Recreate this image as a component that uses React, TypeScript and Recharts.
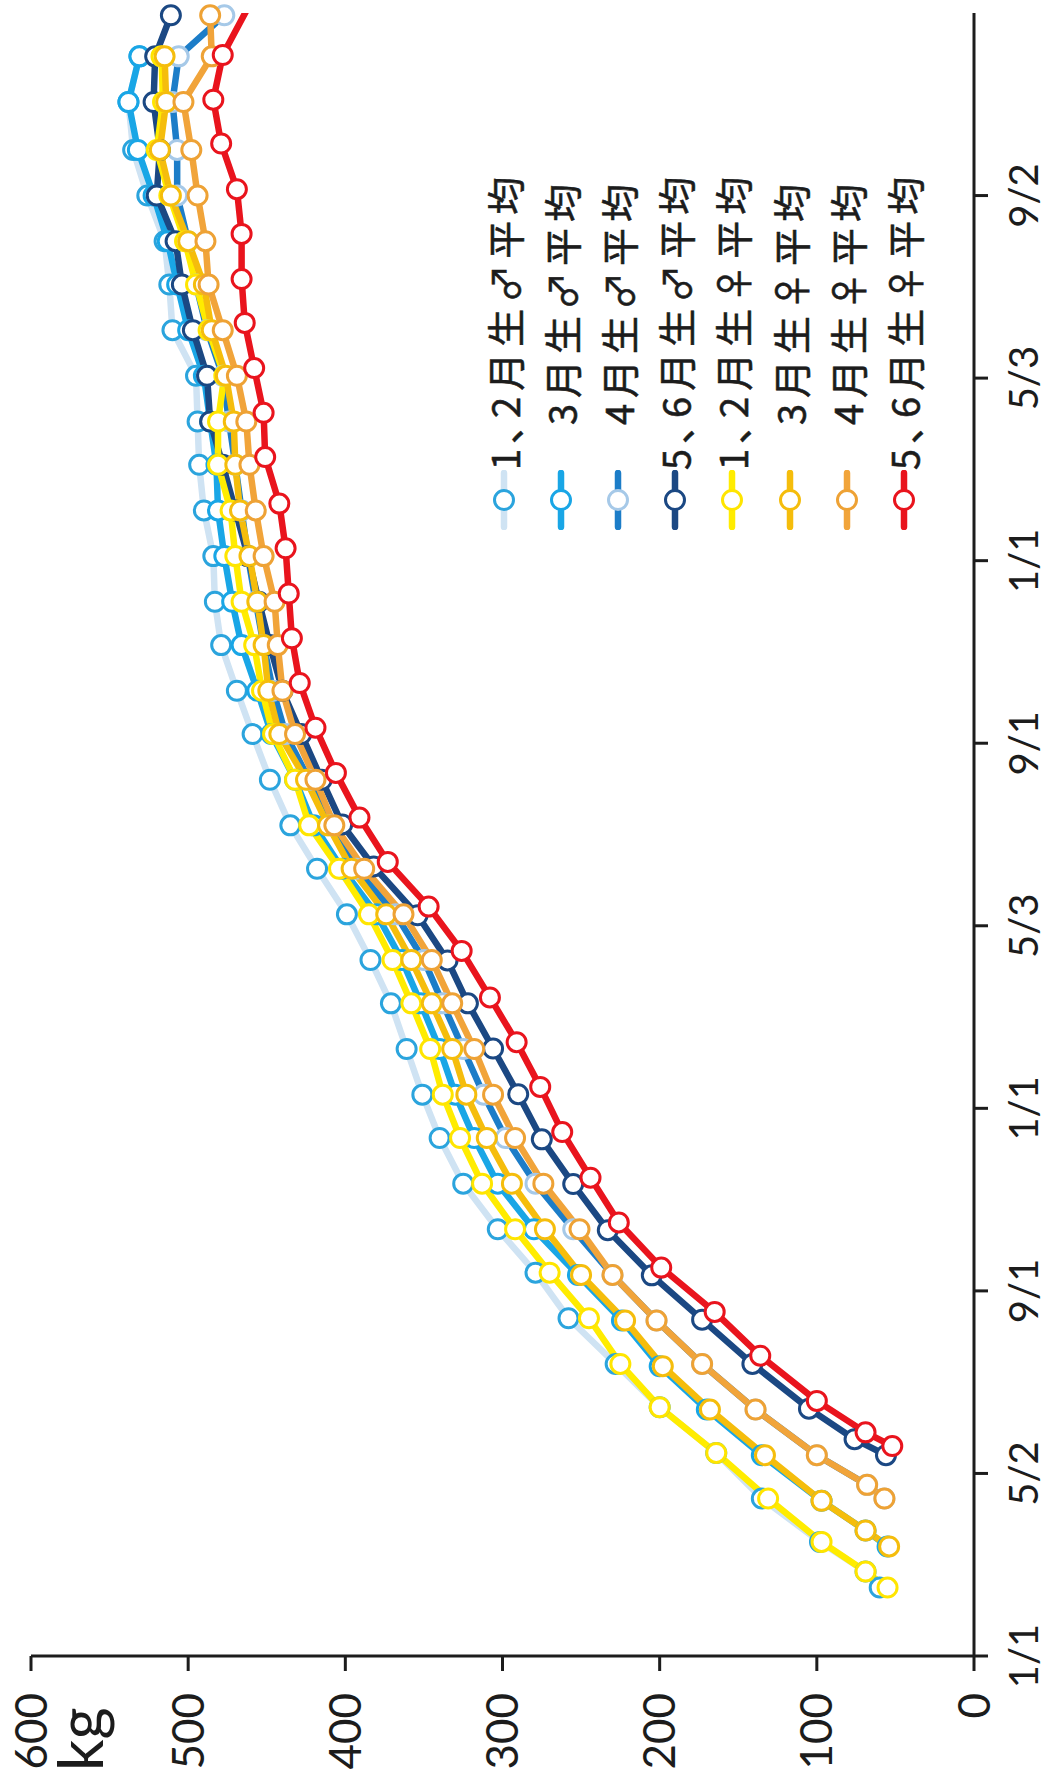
import React from 'react';
import { LineChart, Line, XAxis, YAxis, Legend } from 'recharts';

// chart is drawn upright and then turned a quarter turn left, like the scan
const W = 1785;
const H = 1062;

const dateTicks = [0, 4, 8, 12, 16, 20, 24, 28, 32];
const dateLabels = ['1/1', '5/2', '9/1', '1/1', '5/3', '9/1', '1/1', '5/3', '9/2'];
const kgTicks = [0, 100, 200, 300, 400, 500, 600];

// weighing dates, in months from the first 1/1
const t12 = [1.5, 1.85, 2.5, 3.45, 4.45, 5.45, 6.4, 7.4, 8.4, 9.35, 10.35, 11.35, 12.3, 13.3, 14.3, 15.25, 16.25, 17.25, 18.2, 19.2, 20.2, 21.15, 22.15, 23.1, 24.1, 25.1, 26.1, 27.05, 28.05, 29.05, 30.05, 31.0, 32.0, 33.0, 34.05, 35.05];
const t3 = [2.4, 2.75, 3.4, 4.4, 5.4, 6.35, 7.35, 8.35, 9.35, 10.35, 11.35, 12.3, 13.3, 14.3, 15.25, 16.25, 17.25, 18.2, 19.2, 20.2, 21.15, 22.15, 23.1, 24.1, 25.1, 26.1, 27.05, 28.05, 29.05, 30.05, 31.0, 32.0, 33.0, 34.05, 35.05];
const t4 = [3.45, 3.75, 4.4, 5.4, 6.4, 7.35, 8.35, 9.35, 10.35, 11.35, 12.3, 13.3, 14.3, 15.25, 16.25, 17.25, 18.2, 19.2, 20.2, 21.15, 22.15, 23.1, 24.1, 25.1, 26.1, 27.05, 28.05, 29.05, 30.05, 31.0, 32.0, 33.0, 34.05, 35.05, 35.95];
const t56m = [4.4, 4.75, 5.42, 6.4, 7.37, 8.34, 9.33, 10.34, 11.32, 12.31, 13.31, 14.3, 15.24, 16.23, 17.3, 18.22, 19.2, 20.2, 21.15, 22.15, 23.1, 24.1, 25.1, 26.1, 27.05, 28.05, 29.05, 30.05, 31.0, 32.0, 33.0, 34.05, 35.05, 35.95];
const t56f = [4.6, 4.9, 5.59, 6.58, 7.54, 8.51, 9.5, 10.48, 11.48, 12.47, 13.45, 14.43, 15.45, 16.42, 17.4, 18.37, 19.35, 20.34, 21.32, 22.3, 23.28, 24.27, 25.25, 26.27, 27.24, 28.22, 29.21, 30.17, 31.16, 32.14, 33.14, 34.1, 35.08, 36.5];

// average weight, kg
const w12m = [60, 69, 98, 135, 164, 200, 228, 258, 279, 303, 325, 340, 351, 361, 371, 384, 399, 418, 435, 448, 459, 469, 479, 483, 484, 490, 493, 494, 495, 510, 512, 515, 526, 535, 538, 531];
const w3m = [55, 69, 97, 135, 170, 200, 224, 252, 280, 303, 318, 330, 340, 352, 364, 380, 402, 420, 432, 447, 456, 466, 472, 477, 481, 482, 486, 490, 500, 507, 513, 522, 532, 538, 531];
const w4m = [57, 68, 100, 139, 173, 202, 230, 255, 279, 298, 312, 325, 338, 350, 368, 393, 410, 423, 438, 446, 452, 457, 462, 466, 470, 474, 478, 488, 495, 500, 507, 507, 510, 506, 477];
const w56m = [56, 76, 105, 141, 173, 205, 233, 255, 275, 290, 306, 322, 335, 354, 382, 402, 415, 428, 440, 448, 455, 462, 470, 478, 486, 488, 497, 504, 508, 520, 518, 522, 521, 511];
const w12f = [55, 69, 97, 131, 164, 200, 225, 245, 270, 292, 313, 327, 338, 346, 358, 370, 385, 404, 423, 432, 446, 453, 458, 466, 470, 473, 481, 481, 477, 487, 495, 502, 512, 520, 516, 517];
const w3f = [54, 69, 97, 133, 168, 198, 222, 250, 273, 294, 310, 323, 332, 345, 358, 374, 396, 411, 425, 442, 449, 452, 456, 461, 467, 470, 471, 476, 485, 490, 500, 511, 518, 514, 515];
const w4f = [57, 68, 100, 139, 173, 202, 230, 251, 274, 292, 306, 318, 332, 345, 363, 388, 407, 419, 432, 440, 443, 445, 452, 457, 461, 463, 469, 478, 487, 489, 494, 498, 503, 485, 486];
const w56f = [52, 69, 100, 136, 165, 199, 226, 244, 262, 276, 291, 308, 326, 347, 373, 391, 406, 419, 429, 434, 436, 438, 442, 451, 452, 458, 464, 466, 466, 469, 479, 484, 478, 456];

const series = [
  { name: '1､2月生♂平均', t: t12, w: w12m, line: '#cfe3f3', ring: '#2ba4dd' },
  { name: '3月生♂平均', t: t3, w: w3m, line: '#19a6e6', ring: '#19a6e6' },
  { name: '4月生♂平均', t: t4, w: w4m, line: '#1c7dc8', ring: '#a6c9e8' },
  { name: '5､6月生♂平均', t: t56m, w: w56m, line: '#1b4883', ring: '#1b4883' },
  { name: '1､2月生♀平均', t: t12, w: w12f, line: '#ffec00', ring: '#ffe500' },
  { name: '3月生♀平均', t: t3, w: w3f, line: '#f5bd0c', ring: '#f5bd0c' },
  { name: '4月生♀平均', t: t4, w: w4f, line: '#f1a43a', ring: '#eea235' },
  { name: '5､6月生♀平均', t: t56f, w: w56f, line: '#e9141d', ring: '#e9141d' },
];

const ink = '#1c1c1c';

const renderLegend = () => (
  <div style={{ width: 370 }}>
    {series.map((s) => (
      <div key={s.name} style={{ display: 'flex', alignItems: 'center', height: 57.2 }}>
        <svg width={60} height={30} style={{ flex: 'none' }}>
          <line x1={3} y1={15} x2={57} y2={15} stroke={s.line} strokeWidth={6.5} strokeLinecap="round" />
          <circle cx={30} cy={15} r={9.5} fill="#fff" stroke={s.ring} strokeWidth={3} />
        </svg>
        <span
          style={{
            width: 292,
            textAlign: 'right',
            fontFamily: '"Noto Sans CJK JP"',
            fontSize: 38,
            letterSpacing: 6,
            color: ink,
            whiteSpace: 'nowrap',
            lineHeight: '40px',
            WebkitTextStroke: '0.6px #1c1c1c',
          }}
        >
          {s.name}
        </span>
      </div>
    ))}
  </div>
);

export default function App() {
  return (
    <div
      style={{
        position: 'absolute',
        left: 0,
        top: 0,
        width: W,
        height: H,
        background: '#fff',
        transformOrigin: '0 0',
        transform: `translateY(${W}px) rotate(-90deg)`,
      }}
    >
      <LineChart width={W} height={H} margin={{ top: 31, right: 13, left: 0, bottom: 0 }}>
        <XAxis
          dataKey="t"
          type="number"
          domain={[0, 36]}
          allowDataOverflow
          ticks={dateTicks}
          interval={0}
          tickFormatter={(v: number) => dateLabels[dateTicks.indexOf(v)]}
          height={88}
          tickSize={14}
          tickMargin={22}
          axisLine={{ stroke: ink, strokeWidth: 3 }}
          tickLine={{ stroke: ink, strokeWidth: 3 }}
          tick={{ fill: ink, fontSize: 40, fontFamily: 'Lato' }}
        />
        <YAxis
          type="number"
          domain={[0, 600]}
          ticks={kgTicks}
          interval={0}
          width={129}
          tickSize={15}
          tickMargin={22}
          axisLine={{ stroke: ink, strokeWidth: 3 }}
          tickLine={{ stroke: ink, strokeWidth: 3 }}
          tick={{ fill: ink, fontSize: 44, fontFamily: 'Lato' }}
          label={{
            content: () => (
              <text x={14} y={103} fill={ink} fontSize={62} fontFamily="Lato">
                kg
              </text>
            ),
          }}
        />
        <Legend
          layout="vertical"
          align="center"
          verticalAlign="middle"
          content={renderLegend}
          wrapperStyle={{ position: 'absolute', left: 1255, top: 475, width: 370, height: 460 }}
        />
        {series.map((s) => (
          <Line
            key={s.name}
            name={s.name}
            data={s.t.map((t, i) => ({ t, w: s.w[i] }))}
            dataKey="w"
            stroke={s.line}
            strokeWidth={6.5}
            strokeLinejoin="round"
            dot={{ r: 9.5, fill: '#fff', stroke: s.ring, strokeWidth: 3, clipDot: s.t[s.t.length - 1] <= 36 ? false : true }}
            activeDot={false}
            isAnimationActive={false}
          />
        ))}
      </LineChart>
    </div>
  );
}
